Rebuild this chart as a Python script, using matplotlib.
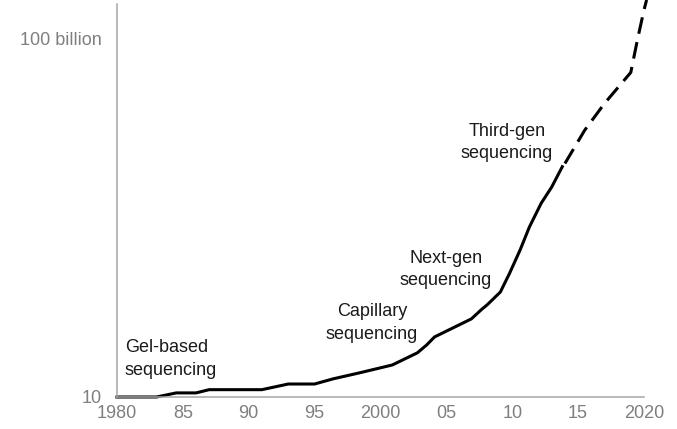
import matplotlib
matplotlib.use("Agg")
import matplotlib.pyplot as plt
from matplotlib.ticker import FixedLocator, NullLocator

plt.rcParams["font.family"] = ["Liberation Sans", "DejaVu Sans"]

# measured history (solid)
years_measured = [1980, 1983, 1984.5, 1986, 1987, 1991, 1993, 1995, 1996.4, 1998.4,
                  2000.9, 2002.8, 2003.5, 2004.1, 2005.5, 2006.9, 2007.7, 2008.1,
                  2009.1, 2009.8, 2010.6, 2011.3, 2012.2, 2013.0, 2013.8]
values_measured = [10, 10, 13, 13, 16, 16, 23, 23, 32, 47,
                   78, 170, 280, 470, 840, 1.5e3, 2.8e3, 3.7e3,
                   8.4e3, 2.8e4, 1.25e5, 5.4e5, 2.5e6, 7.1e6, 2.6e7]

# projection (dashed)
years_projected = [2014.0, 2015.5, 2017.0, 2019.0, 2019.5, 2020.0, 2020.2]
values_projected = [3.2e7, 2.7e8, 1.5e9, 1.1e10, 8.8e10, 6e11, 1.15e12]

x_ticks = [1980, 1985, 1990, 1995, 2000, 2005, 2010, 2015, 2020]
x_labels = ["1980", "85", "90", "95", "2000", "05", "10", "15", "2020"]
y_ticks = [10, 1e11]
y_labels = ["10", "100 billion"]

labels = [
    ("Gel-based\nsequencing", 1980.6, 115, "left"),
    ("Capillary\nsequencing", 1999.35, 1.15e3, "center"),
    ("Next-gen\nsequencing", 2004.95, 3.5e4, "center"),
    ("Third-gen\nsequencing", 2009.6, 1.2e8, "center"),
]

fig = plt.figure(figsize=(6.77, 4.29), dpi=100)
ax = fig.add_axes([0.1728, 0.0746, 0.7784, 0.916])

ax.plot(years_measured, values_measured, color="black", lw=2.2,
        solid_joinstyle="round", clip_on=False)
ax.plot(years_projected, values_projected, color="black", lw=2.2,
        linestyle=(0, (5.5, 2.8)), clip_on=False)

ax.set_yscale("log")
ax.set_xlim(1980, 2020)
ax.set_ylim(10, 8.85e11)

ax.xaxis.set_major_locator(FixedLocator(x_ticks))
ax.set_xticklabels(x_labels)
ax.yaxis.set_major_locator(FixedLocator(y_ticks))
ax.yaxis.set_minor_locator(NullLocator())
ax.set_yticklabels(y_labels)

ax.tick_params(axis="both", length=0, labelsize=13, labelcolor="#7f7f7f")
ax.tick_params(axis="x", pad=6)
ax.tick_params(axis="y", pad=11)

for side in ["top", "right"]:
    ax.spines[side].set_visible(False)
for side in ["left", "bottom"]:
    ax.spines[side].set_color("#a6a6a6")
    ax.spines[side].set_linewidth(1.1)

for text, x, y, align in labels:
    ax.text(x, y, text, ha=align, va="center", fontsize=13,
            color="#1a1a1a", linespacing=1.4, multialignment=align)

fig.savefig("out.png", dpi=100)
